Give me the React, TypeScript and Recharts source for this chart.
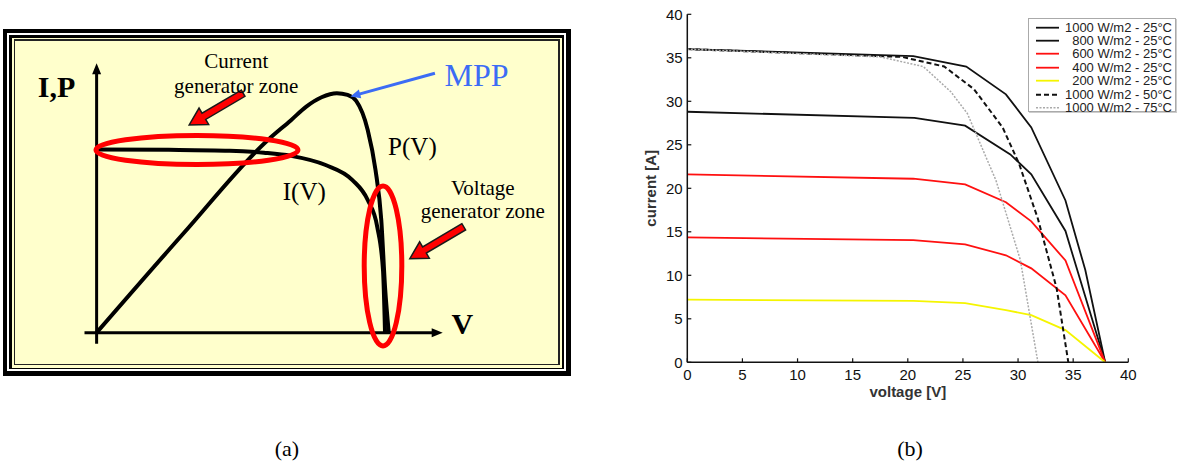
import React from "react";
import {
  LineChart,
  Line,
  XAxis,
  YAxis,
  ReferenceDot,
  ReferenceLine,
  Legend,
} from "recharts";

// ---------- panel (a): schematic, normalised units (V = 1 at open circuit) ----------
const schematicI = [
  { v: 0, y: 1.0 },
  { v: 0.25, y: 0.998 },
  { v: 0.461, y: 0.993 },
  { v: 0.58, y: 0.982 },
  { v: 0.674, y: 0.965 },
  { v: 0.794, y: 0.915 },
  { v: 0.887, y: 0.833 },
  { v: 0.94, y: 0.724 },
  { v: 0.973, y: 0.578 },
  { v: 0.993, y: 0.341 },
  { v: 1.0, y: 0 },
];

const schematicP = [
  { v: 0, y: 0 },
  { v: 0.3, y: 0.54 },
  { v: 0.594, y: 1.052 },
  { v: 0.674, y: 1.16 },
  { v: 0.727, y: 1.234 },
  { v: 0.78, y: 1.285 },
  { v: 0.833, y: 1.307 },
  { v: 0.87, y: 1.298 },
  { v: 0.9, y: 1.265 },
  { v: 0.94, y: 1.106 },
  { v: 0.967, y: 0.888 },
  { v: 0.987, y: 0.614 },
  { v: 1.0, y: 0.249 },
  { v: 1.013, y: 0 },
];

// ---------- panel (b): measured I-V curves ----------
const voltageTicks = [0, 5, 10, 15, 20, 25, 30, 35, 40];
const currentTicks = [0, 5, 10, 15, 20, 25, 30, 35, 40];

const g1000t25 = [
  { v: 0, i: 36.0 },
  { v: 20.5, i: 35.2 },
  { v: 25.3, i: 34.0 },
  { v: 28.9, i: 30.8 },
  { v: 31.2, i: 27.0 },
  { v: 34.3, i: 18.6 },
  { v: 36.1, i: 10.6 },
  { v: 37.9, i: 0 },
];
const g800t25 = [
  { v: 0, i: 28.8 },
  { v: 20.6, i: 28.1 },
  { v: 25.2, i: 27.2 },
  { v: 29.3, i: 23.9 },
  { v: 31.2, i: 21.6 },
  { v: 34.3, i: 15.1 },
  { v: 37.9, i: 0 },
];
const g600t25 = [
  { v: 0, i: 21.6 },
  { v: 20.5, i: 21.1 },
  { v: 25.2, i: 20.45 },
  { v: 28.9, i: 18.4 },
  { v: 31.2, i: 16.2 },
  { v: 34.3, i: 11.7 },
  { v: 37.9, i: 0 },
];
const g400t25 = [
  { v: 0, i: 14.35 },
  { v: 20.5, i: 14.05 },
  { v: 25.2, i: 13.55 },
  { v: 28.9, i: 12.3 },
  { v: 31.2, i: 10.8 },
  { v: 34.3, i: 7.7 },
  { v: 37.9, i: 0 },
];
const g200t25 = [
  { v: 0, i: 7.2 },
  { v: 20.5, i: 7.05 },
  { v: 25.2, i: 6.8 },
  { v: 28.9, i: 6.0 },
  { v: 31.2, i: 5.43 },
  { v: 34.3, i: 3.7 },
  { v: 37.9, i: 0 },
];
const g1000t50 = [
  { v: 0, i: 36.0 },
  { v: 19.5, i: 35.1 },
  { v: 23.3, i: 34.0 },
  { v: 26.0, i: 31.4 },
  { v: 28.6, i: 27.0 },
  { v: 30.1, i: 22.8 },
  { v: 31.8, i: 16.5 },
  { v: 33.5, i: 8.5 },
  { v: 34.56, i: 0 },
];
const g1000t75 = [
  { v: 0, i: 36.0 },
  { v: 17.5, i: 35.1 },
  { v: 21.4, i: 34.0 },
  { v: 23.9, i: 31.1 },
  { v: 25.4, i: 28.6 },
  { v: 28.0, i: 20.9 },
  { v: 30.2, i: 11.8 },
  { v: 31.8, i: 0 },
];

const SERIES = [
  { name: "1000 W/m2 - 25°C", data: g1000t25, color: "#111", dash: "", width: 1.8 },
  { name: "800 W/m2 - 25°C", data: g800t25, color: "#111", dash: "", width: 1.8 },
  { name: "600 W/m2 - 25°C", data: g600t25, color: "#ff1010", dash: "", width: 1.8 },
  { name: "400 W/m2 - 25°C", data: g400t25, color: "#ff1010", dash: "", width: 1.8 },
  { name: "200 W/m2 - 25°C", data: g200t25, color: "#f5f500", dash: "", width: 1.8 },
  { name: "1000 W/m2 - 50°C", data: g1000t50, color: "#111", dash: "5 3", width: 2 },
  { name: "1000 W/m2 - 75°C", data: g1000t75, color: "#aaa", dash: "2 1.5", width: 1.5 },
];

const SERIF = '"Liberation Serif", "Times New Roman", serif';
const SANS = '"Liberation Sans", Arial, sans-serif';

function blockArrow(p: any) {
  const { x1, y1, x2, y2 } = p;
  const L = Math.hypot(x2 - x1, y2 - y1);
  const ux = (x2 - x1) / L;
  const uy = (y2 - y1) / L;
  const nx = -uy;
  const ny = ux;
  const hl = 17;
  const hw = 9.5;
  const sw = 3.6;
  const bx = x2 - ux * hl;
  const by = y2 - uy * hl;
  const pts = [
    [x1 + nx * sw, y1 + ny * sw],
    [bx + nx * sw, by + ny * sw],
    [bx + nx * hw, by + ny * hw],
    [x2, y2],
    [bx - nx * hw, by - ny * hw],
    [bx - nx * sw, by - ny * sw],
    [x1 - nx * sw, y1 - ny * sw],
  ];
  return (
    <polygon
      points={pts.map((q) => q.join(",")).join(" ")}
      fill="#ff0000"
      stroke="#1a1a1a"
      strokeWidth={1.5}
    />
  );
}

function lineArrow(color: string, width: number, hl: number, hw: number) {
  return (p: any) => {
    const { x1, y1, x2, y2 } = p;
    const L = Math.hypot(x2 - x1, y2 - y1);
    const ux = (x2 - x1) / L;
    const uy = (y2 - y1) / L;
    const bx = x2 - ux * hl;
    const by = y2 - uy * hl;
    const head = [
      [x2, y2],
      [bx - uy * hw, by + ux * hw],
      [bx + uy * hw, by - ux * hw],
    ];
    return (
      <g>
        <line x1={x1} y1={y1} x2={bx + ux * 1} y2={by + uy * 1} stroke={color} strokeWidth={width} />
        <polygon points={head.map((q) => q.join(",")).join(" ")} fill={color} />
      </g>
    );
  };
}

function ellipseShape(rx: number, ry: number) {
  return (p: any) => (
    <ellipse cx={p.cx} cy={p.cy} rx={rx} ry={ry} fill="none" stroke="#ff0000" strokeWidth={5} />
  );
}

function textShape(lines: string[], size: number, opts: { weight?: string; color?: string; anchor?: string; gap?: number } = {}) {
  return (p: any) => (
    <text
      x={p.cx}
      y={p.cy}
      fontFamily={SERIF}
      fontSize={size}
      fontWeight={opts.weight ?? "normal"}
      fill={opts.color ?? "#000"}
      textAnchor={opts.anchor ?? "middle"}
    >
      {lines.map((l, k) => (
        <tspan key={k} x={p.cx} dy={k === 0 ? 0 : opts.gap ?? size * 1.15}>
          {l}
        </tspan>
      ))}
    </text>
  );
}

function SchematicPanel() {
  return (
    <LineChart width={542.5} height={323} margin={{ top: 0, right: 0, bottom: 0, left: 0 }}>
      <XAxis hide type="number" dataKey="v" domain={[-0.283, 1.598]} allowDataOverflow />
      <YAxis hide type="number" dataKey="y" domain={[-0.171, 1.592]} allowDataOverflow />
      {/* arrowed axes */}
      <ReferenceLine
        segment={[{ x: -0.042, y: 0 }, { x: 1.2, y: 0 }]}
        ifOverflow="visible"
        shape={lineArrow("#000", 3, 11, 4.5)}
      />
      <ReferenceLine
        segment={[{ x: 0, y: -0.061 }, { x: 0, y: 1.471 }]}
        ifOverflow="visible"
        shape={lineArrow("#000", 3, 11, 4.5)}
      />
      <Line data={schematicP} dataKey="y" type="monotone" stroke="#000" strokeWidth={4} dot={false} isAnimationActive={false} />
      <Line data={schematicI} dataKey="y" type="monotone" stroke="#000" strokeWidth={4} dot={false} isAnimationActive={false} />
      {/* zones */}
      <ReferenceDot x={0.348} y={0.997} r={1} ifOverflow="visible" shape={ellipseShape(101, 14.5)} />
      <ReferenceDot x={0.993} y={0.364} r={1} ifOverflow="visible" shape={ellipseShape(18.8, 80)} />
      <ReferenceLine segment={[{ x: 0.508, y: 1.307 }, { x: 0.321, y: 1.134 }]} ifOverflow="visible" shape={blockArrow} />
      <ReferenceLine segment={[{ x: 1.273, y: 0.578 }, { x: 1.086, y: 0.404 }]} ifOverflow="visible" shape={blockArrow} />
      <ReferenceLine
        segment={[{ x: 1.173, y: 1.416 }, { x: 0.88, y: 1.289 }]}
        ifOverflow="visible"
        shape={lineArrow("#3c6cf5", 3, 10, 4.5)}
      />
      {/* labels */}
      <ReferenceDot x={-0.139} y={1.284} r={1} ifOverflow="visible" shape={textShape(["I,P"], 30, { weight: "bold" })} />
      <ReferenceDot x={1.268} y={-0.006} r={1} ifOverflow="visible" shape={textShape(["V"], 30, { weight: "bold" })} />
      <ReferenceDot x={0.484} y={1.444} r={1} ifOverflow="visible" shape={textShape(["Current", "generator zone"], 21, { gap: 24.4 })} />
      <ReferenceDot x={1.339} y={0.751} r={1} ifOverflow="visible" shape={textShape(["Voltage", "generator zone"], 21, { gap: 23.4 })} />
      <ReferenceDot x={1.206} y={1.344} r={1} ifOverflow="visible" shape={textShape(["MPP"], 32, { color: "#3c6cf5", anchor: "start" })} />
      <ReferenceDot x={1.095} y={0.969} r={1} ifOverflow="visible" shape={textShape(["P(V)"], 25)} />
      <ReferenceDot x={0.72} y={0.724} r={1} ifOverflow="visible" shape={textShape(["I(V)"], 25)} />
    </LineChart>
  );
}

function CurveLegend() {
  return (
    <div
      style={{
        position: "relative",
        width: 146,
        height: 92,
        border: "1px solid #aaa",
        boxShadow: "1px 1px 0 #ccc",
        background: "#fff",
        fontFamily: SANS,
        fontSize: 13,
        color: "#222",
      }}
    >
      {SERIES.map((s, k) => (
        <div
          key={s.name}
          style={{ position: "absolute", left: 0, right: 3, top: 1.6 + 13.4 * k, height: 13.4, lineHeight: "13.4px", textAlign: "right", whiteSpace: "nowrap" }}
        >
          <svg width={24} height={13} style={{ position: "absolute", left: 7, top: 0 }}>
            <line x1={0} y1={6.7} x2={23} y2={6.7} stroke={s.color} strokeWidth={s.width} strokeDasharray={s.dash || undefined} />
          </svg>
          {s.name}
        </div>
      ))}
    </div>
  );
}

function CurvesPanel() {
  const tickStyle = { fill: "#111", fontSize: 15, fontFamily: SANS };
  return (
    <LineChart width={562} height={420} margin={{ top: 14.3, right: 53.7, bottom: 27.7, left: 17.3 }}>
      <XAxis
        type="number"
        dataKey="v"
        domain={[0, 40]}
        ticks={voltageTicks}
        interval={0}
        height={30}
        tickSize={-4}
        tickMargin={10.7}
        axisLine={{ stroke: "#111", strokeWidth: 1.5 }}
        tickLine={{ stroke: "#111", strokeWidth: 1.2 }}
        tick={tickStyle}
        label={(p: any) => {
          const vb = p.viewBox;
          return (
            <text x={vb.x + vb.width / 2} y={vb.y + 35} textAnchor="middle" fontFamily={SANS} fontSize={15} fontWeight="bold" fill="#333">
              voltage [V]
            </text>
          );
        }}
      />
      <YAxis
        type="number"
        domain={[0, 40]}
        ticks={currentTicks}
        interval={0}
        width={50}
        tickSize={-4}
        tickMargin={8.6}
        axisLine={{ stroke: "#111", strokeWidth: 1.5 }}
        tickLine={{ stroke: "#111", strokeWidth: 1.2 }}
        tick={tickStyle}
        label={(p: any) => {
          const vb = p.viewBox;
          const cx = vb.x + 13.7;
          const cy = vb.y + vb.height / 2;
          return (
            <text x={cx} y={cy} transform={`rotate(-90 ${cx} ${cy})`} textAnchor="middle" dominantBaseline="central" fontFamily={SANS} fontSize={15} fontWeight="bold" fill="#333">
              current [A]
            </text>
          );
        }}
      />
      <Legend
        layout="vertical"
        align="center"
        verticalAlign="middle"
        wrapperStyle={{ left: 408, top: 18 }}
        content={() => <CurveLegend />}
      />
      {SERIES.map((s) => (
        <Line
          key={s.name}
          name={s.name}
          data={s.data}
          dataKey="i"
          type="linear"
          stroke={s.color}
          strokeWidth={s.width}
          strokeDasharray={s.dash || undefined}
          dot={false}
          isAnimationActive={false}
        />
      ))}
    </LineChart>
  );
}

const abs = (l: number, t: number, w: number, h: number, bg: string): React.CSSProperties => ({
  position: "absolute",
  left: l,
  top: t,
  width: w,
  height: h,
  background: bg,
});

export default function App() {
  return (
    <div style={{ position: "absolute", left: 0, top: 0, width: 1182, height: 465, background: "#fff", overflow: "hidden" }}>
      {/* framed box of panel (a) */}
      <div style={abs(3.3, 29.3, 567.4, 346.7, "#000")} />
      <div style={abs(7.3, 33.3, 558.4, 337.7, "#fff")} />
      <div style={abs(9.3, 35.3, 554.7, 334, "#000")} />
      <div style={abs(12.3, 37.5, 550, 330, "#ffffcc")} />
      <div style={abs(13.5, 39, 546, 326.3, "#222")} />
      <div style={abs(15, 40.5, 542.5, 323, "#ffffcc")} />
      <div style={{ position: "absolute", left: 15, top: 40.5 }}>
        <SchematicPanel />
      </div>

      <div style={{ position: "absolute", left: 620, top: 0 }}>
        <CurvesPanel />
      </div>

      <div style={{ position: "absolute", left: 237, width: 100, top: 436, textAlign: "center", fontFamily: SERIF, fontSize: 22 }}>(a)</div>
      <div style={{ position: "absolute", left: 860, width: 100, top: 436, textAlign: "center", fontFamily: SERIF, fontSize: 22 }}>(b)</div>
    </div>
  );
}
